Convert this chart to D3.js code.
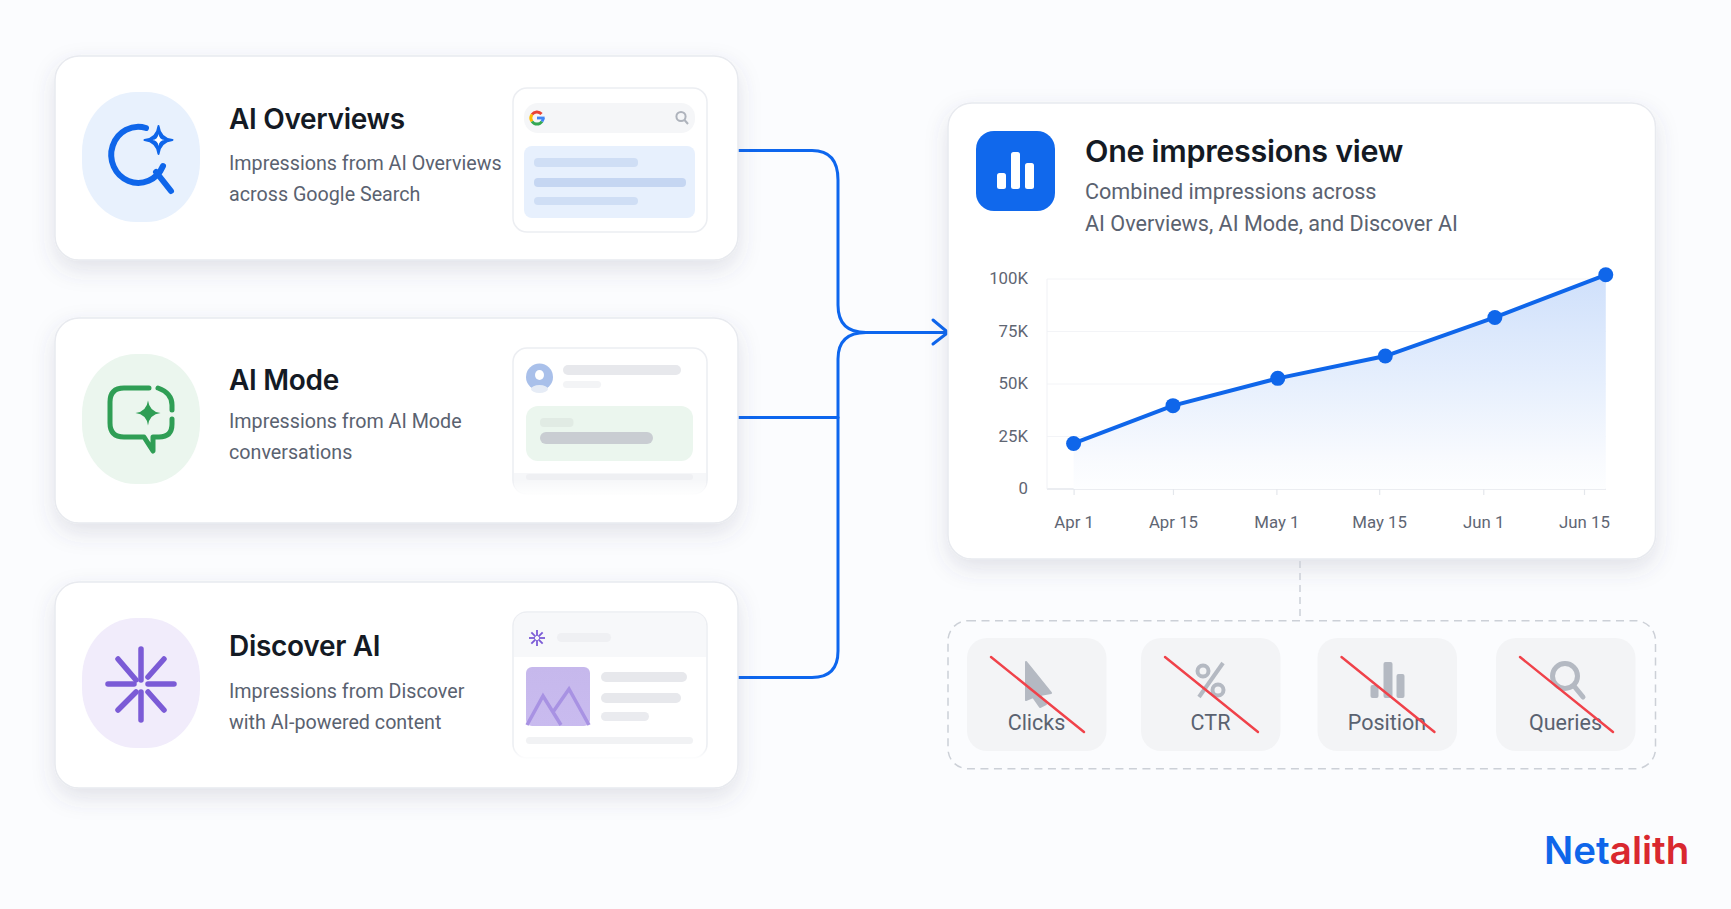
<!DOCTYPE html>
<html>
<head>
<meta charset="utf-8">
<script src="https://cdn.jsdelivr.net/npm/d3@7"></script>
<style>
  html, body { margin: 0; padding: 0; background: #fbfcfe; }
  svg { display: block; font-family: Inter, "Noto Sans", sans-serif; }
</style>
</head>
<body>
<div id="chart"></div>
<script>
// Chart values
const tickDays = [0, 14.6, 29.8, 44.9, 60.2, 75];
const tickLabels = ['Apr 1', 'Apr 15', 'May 1', 'May 15', 'Jun 1', 'Jun 15'];
const seriesDays = [0, 14.6, 30, 45.8, 61.9, 78.2];
const seriesValues = [21.7, 39.7, 52.7, 63.3, 81.7, 102];
const yTicks = [0, 25, 50, 75, 100];

const sourceTitles = ['AI Overviews', 'AI Mode', 'Discover AI'];
const sourceLines = [
  ['Impressions from AI Overviews', 'across Google Search'],
  ['Impressions from AI Mode', 'conversations'],
  ['Impressions from Discover', 'with AI-powered content']
];
const missingMetrics = ['Clicks', 'CTR', 'Position', 'Queries'];

const BLUE = '#0f66ea';
const GREEN = '#2f9e55';
const PURPLE = '#7b5bd6';
const GREY_ICON = '#b4b9c2';
const BODY_FONT = 'Roboto, Inter, sans-serif';

class ImpressionsDiagram {

  constructor(_config) {
    this.config = {
      parentElement: _config.parentElement,
      containerWidth: 1731,
      containerHeight: 909,
      cardTops: [56, 318, 582],
      cardHeights: [204, 205, 206],
      titleBaselines: [129, 390, 656],
      lineBaselines: [170, 428, 698],
      plot: {left: 1047, right: 1606, top: 279, bottom: 489, tickLeft: 1073.6, tickRight: 1584},
      tiles: [967, 1141, 1317.5, 1496]
    };
    this.initVis();
  }

  initVis() {
    let vis = this;

    vis.svg = d3.select(vis.config.parentElement).append('svg')
        .attr('width', vis.config.containerWidth)
        .attr('height', vis.config.containerHeight);

    let defs = vis.svg.append('defs');

    let shadow = defs.append('filter')
        .attr('id', 'card-shadow')
        .attr('x', '-10%').attr('y', '-10%')
        .attr('width', '120%').attr('height', '130%');
    shadow.append('feDropShadow')
        .attr('dx', 0).attr('dy', 9)
        .attr('stdDeviation', 11)
        .attr('flood-color', '#4a5570')
        .attr('flood-opacity', 0.15);

    let fade = defs.append('linearGradient')
        .attr('id', 'area-fade')
        .attr('x1', 0).attr('y1', 0).attr('x2', 0).attr('y2', 1);
    fade.append('stop').attr('offset', '0%').attr('stop-color', '#cfe0fb');
    fade.append('stop').attr('offset', '50%').attr('stop-color', '#e6effd');
    fade.append('stop').attr('offset', '85%').attr('stop-color', '#f8fafe');
    fade.append('stop').attr('offset', '100%').attr('stop-color', '#fdfeff');

    let photo = defs.append('linearGradient')
        .attr('id', 'photo-fade')
        .attr('x1', 0).attr('y1', 0).attr('x2', 0).attr('y2', 1);
    photo.append('stop').attr('offset', '0%').attr('stop-color', '#c6b8ec');
    photo.append('stop').attr('offset', '100%').attr('stop-color', '#c9bbef');

    // Previews in the lower two cards fade out at the bottom edge
    let white = defs.append('linearGradient')
        .attr('id', 'white-fade')
        .attr('x1', 0).attr('y1', 0).attr('x2', 0).attr('y2', 1);
    white.append('stop').attr('offset', '0%').attr('stop-color', '#fff').attr('stop-opacity', 0);
    white.append('stop').attr('offset', '100%').attr('stop-color', '#fff').attr('stop-opacity', 1);

    vis.renderConnectors();
    vis.renderSourceCards();
    vis.renderSummaryCard();
    vis.renderChart();
    vis.renderMissingMetrics();
    vis.renderLogo();
  }

  roundRect(parent, x, y, w, h, r, fill) {
    return parent.append('rect')
        .attr('x', x).attr('y', y)
        .attr('width', w).attr('height', h)
        .attr('rx', r)
        .attr('fill', fill);
  }

  // Four pointed star used by the sparkle icons
  sparklePath(cx, cy, r) {
    let k = r * 0.22;
    return `M${cx},${cy - r}Q${cx + k * 0.5},${cy - k * 0.5} ${cx + r},${cy}` +
      `Q${cx + k * 0.5},${cy + k * 0.5} ${cx},${cy + r}` +
      `Q${cx - k * 0.5},${cy + k * 0.5} ${cx - r},${cy}` +
      `Q${cx - k * 0.5},${cy - k * 0.5} ${cx},${cy - r}Z`;
  }

  renderConnectors() {
    let vis = this;
    let g = vis.svg.append('g')
        .attr('fill', 'none')
        .attr('stroke', '#0d66ee')
        .attr('stroke-width', 3)
        .attr('stroke-linecap', 'round');

    g.append('path').attr('d', 'M738,150.5H812Q838,150.5 838,180V305Q838,332.5 866,332.5H948');
    g.append('path').attr('d', 'M866,332.5Q838,332.5 838,359V651Q838,677.5 812,677.5H738');
    g.append('path').attr('d', 'M738,417.5H838');
    g.append('path').attr('d', 'M933,320L948,332.5L933,344');
  }

  renderSourceCards() {
    let vis = this;
    let blobColors = ['#e8f1fd', '#ebf6ee', '#f1ecfb'];

    sourceTitles.forEach((title, i) => {
      let top = vis.config.cardTops[i];
      let height = vis.config.cardHeights[i];
      let g = vis.svg.append('g');

      vis.roundRect(g, 55, top, 683, height, 24, '#fff')
          .attr('stroke', '#e8eaef')
          .attr('stroke-width', 1.5)
          .attr('filter', 'url(#card-shadow)');

      g.append('rect')
          .attr('x', 82).attr('y', top + 36)
          .attr('width', 118).attr('height', 130)
          .attr('rx', 54).attr('ry', 60)
          .attr('fill', blobColors[i]);

      g.append('text')
          .attr('x', 229).attr('y', vis.config.titleBaselines[i])
          .attr('font-size', 28)
          .attr('font-weight', 600)
          .attr('letter-spacing', -0.3)
          .attr('fill', '#141a24')
          .text(title);

      g.selectAll('.line')
        .data(sourceLines[i])
        .join('text')
          .attr('x', 229)
          .attr('y', (d, j) => vis.config.lineBaselines[i] + j * 31)
          .attr('font-family', BODY_FONT)
          .attr('font-size', 19.7)
          .attr('fill', '#5a6270')
          .text(d => d);
    });

    vis.renderSearchIcon();
    vis.renderModeIcon();
    vis.renderDiscoverIcon();
    vis.renderSearchPreview();
    vis.renderModePreview();
    vis.renderDiscoverPreview();
  }

  renderSearchIcon() {
    let vis = this;
    let g = vis.svg.append('g')
        .attr('fill', 'none')
        .attr('stroke', BLUE)
        .attr('stroke-linecap', 'round');

    g.append('path')
        .attr('stroke-width', 6)
        .attr('d', 'M146,128A27,28 0 1 0 163,166');
    g.append('path')
        .attr('stroke-width', 6)
        .attr('d', 'M156,172L171,191');
    g.append('path')
        .attr('stroke-width', 2)
        .attr('stroke-linejoin', 'round')
        .attr('fill', BLUE)
        .attr('d', vis.sparklePath(158.5, 140, 14));
    g.append('path')
        .attr('stroke', 'none')
        .attr('fill', '#fff')
        .attr('d', vis.sparklePath(158.5, 140, 6));
  }

  renderModeIcon() {
    let vis = this;
    let g = vis.svg.append('g')
        .attr('fill', 'none')
        .attr('stroke', GREEN)
        .attr('stroke-width', 5)
        .attr('stroke-linecap', 'round')
        .attr('stroke-linejoin', 'round');

    g.append('path')
        .attr('d', 'M149,388H124Q110,388 110,402V423Q110,437 124,437H144L153,451V437H159Q172,437 172,424V419');
    g.append('path')
        .attr('d', 'M158,388Q172,393 172,405V410');
    g.append('path')
        .attr('d', vis.sparklePath(148, 413, 12.5))
        .attr('stroke', 'none')
        .attr('fill', GREEN);
  }

  renderDiscoverIcon() {
    let vis = this;
    let rays = [
      [141, 649, 141, 680], [141, 692, 141, 720],
      [108, 684, 134, 684], [148, 684, 174, 684],
      [118, 659, 136, 680], [164, 659, 148, 677],
      [118, 710, 136, 692], [164, 710, 148, 692]
    ];
    vis.svg.append('g')
        .attr('stroke', PURPLE)
        .attr('stroke-width', 5.5)
        .attr('stroke-linecap', 'round')
      .selectAll('line')
      .data(rays)
      .join('line')
        .attr('x1', d => d[0]).attr('y1', d => d[1])
        .attr('x2', d => d[2]).attr('y2', d => d[3]);
  }

  renderSearchPreview() {
    let vis = this;
    let g = vis.svg.append('g');

    vis.roundRect(g, 513, 88, 194, 144, 14, '#fff')
        .attr('stroke', '#eceef2').attr('stroke-width', 1.5);
    vis.roundRect(g, 524, 103, 171, 30, 14, '#f5f6f8');
    vis.roundRect(g, 524, 146, 171, 72, 8, '#e7f0fd');
    vis.roundRect(g, 534, 158, 104, 9, 4, '#cfdef5');
    vis.roundRect(g, 534, 178, 152, 9, 4, '#c5d6f2');
    vis.roundRect(g, 534, 197, 104, 8, 4, '#cfdef5');

    // G logo built from coloured arcs, angles in degrees clockwise from the top
    let arc = d3.arc().innerRadius(4.6).outerRadius(7.6);
    let logo = g.append('g').attr('transform', 'translate(537,118)');
    [
      {from: -55, to: 48, color: '#ea4335'},
      {from: -125, to: -55, color: '#fbbc05'},
      {from: 125, to: 235, color: '#34a853'},
      {from: 90, to: 125, color: '#4285f4'}
    ].forEach(p => {
      logo.append('path')
          .attr('fill', p.color)
          .attr('d', arc.startAngle(p.from * Math.PI / 180).endAngle(p.to * Math.PI / 180)());
    });
    logo.append('rect')
        .attr('x', 0).attr('y', -1.4)
        .attr('width', 7.6).attr('height', 2.8)
        .attr('fill', '#4285f4');

    let lens = g.append('g')
        .attr('fill', 'none')
        .attr('stroke', '#aeb3bc')
        .attr('stroke-width', 2);
    lens.append('circle').attr('cx', 681).attr('cy', 116.5).attr('r', 4.6);
    lens.append('line').attr('x1', 684.5).attr('y1', 120).attr('x2', 688).attr('y2', 124);
  }

  renderModePreview() {
    let vis = this;
    let g = vis.svg.append('g');

    vis.roundRect(g, 513, 348, 194, 146, 14, '#fff')
        .attr('stroke', '#eceef2').attr('stroke-width', 1.5);
    g.append('path')
        .attr('d', 'M514,473H706V481Q706,493 694,493H526Q514,493 514,481Z')
        .attr('fill', '#f6f7f9');
    vis.roundRect(g, 526, 474, 167, 6, 3, '#eff0f3');

    g.append('circle').attr('cx', 539.5).attr('cy', 377).attr('r', 13.5).attr('fill', '#a9c0ea');
    g.append('ellipse').attr('cx', 539.5).attr('cy', 375).attr('rx', 4.5).attr('ry', 5).attr('fill', '#fff');
    g.append('ellipse').attr('cx', 539.5).attr('cy', 389).attr('rx', 8.5).attr('ry', 4).attr('fill', '#e6ecf6');

    vis.roundRect(g, 563, 365, 118, 10, 5, '#e7e8ec');
    vis.roundRect(g, 563, 381, 38, 7, 3.5, '#f3f4f6');
    vis.roundRect(g, 526, 406, 167, 55, 12, '#ebf6ee');
    vis.roundRect(g, 540, 418, 33.5, 9, 4, '#e1ebe4');
    vis.roundRect(g, 540, 432, 113, 12, 6, '#c9cdd2');

    g.append('rect')
        .attr('x', 511).attr('y', 480)
        .attr('width', 198).attr('height', 16)
        .attr('fill', 'url(#white-fade)');
  }

  renderDiscoverPreview() {
    let vis = this;
    let g = vis.svg.append('g');

    vis.roundRect(g, 513, 612, 194, 146, 14, '#fff')
        .attr('stroke', '#eceef2').attr('stroke-width', 1.5);
    g.append('path')
        .attr('d', 'M514,657V626Q514,613 527,613H693Q706,613 706,626V657Z')
        .attr('fill', '#f7f8fa');

    let cx = 537, cy = 638;
    g.append('g')
        .attr('stroke', PURPLE)
        .attr('stroke-width', 1.8)
      .selectAll('line')
      .data(d3.range(8))
      .join('line')
        .attr('x1', d => cx + 2 * Math.cos(d * Math.PI / 4))
        .attr('y1', d => cy + 2 * Math.sin(d * Math.PI / 4))
        .attr('x2', d => cx + 8 * Math.cos(d * Math.PI / 4))
        .attr('y2', d => cy + 8 * Math.sin(d * Math.PI / 4));

    vis.roundRect(g, 557, 633, 54, 9, 4.5, '#eff0f3');
    vis.roundRect(g, 526, 667, 64, 59, 6, 'url(#photo-fade)');
    g.append('path')
        .attr('d', 'M527,725L543,696L561,725M553,712L569,689L589,725')
        .attr('fill', 'none')
        .attr('stroke', '#a892e3')
        .attr('stroke-width', 3.5);
    vis.roundRect(g, 601, 672, 86, 10, 5, '#e7e8ec');
    vis.roundRect(g, 601, 693, 80, 10, 5, '#e7e8ec');
    vis.roundRect(g, 601, 712, 48, 9, 4.5, '#eaebef');
    vis.roundRect(g, 526, 737, 167, 7, 3.5, '#f1f2f4');

    g.append('rect')
        .attr('x', 511).attr('y', 746)
        .attr('width', 198).attr('height', 14)
        .attr('fill', 'url(#white-fade)');
  }

  renderSummaryCard() {
    let vis = this;
    let g = vis.svg.append('g');

    vis.roundRect(g, 948, 103, 707.5, 456, 24, '#fff')
        .attr('stroke', '#e8eaef')
        .attr('stroke-width', 1.5)
        .attr('filter', 'url(#card-shadow)');

    vis.roundRect(g, 976, 131, 79, 80, 18, '#1068ec');
    [[997, 173, 9, 16], [1011, 152, 9, 37], [1025, 163, 9, 26]].forEach(b => {
      vis.roundRect(g, b[0], b[1], b[2], b[3], 2.5, '#fff');
    });

    g.append('text')
        .attr('x', 1085).attr('y', 162)
        .attr('font-size', 30.5)
        .attr('font-weight', 600)
        .attr('letter-spacing', -0.3)
        .attr('fill', '#141a24')
        .text('One impressions view');

    g.selectAll('.sub')
      .data(['Combined impressions across', 'AI Overviews, AI Mode, and Discover AI'])
      .join('text')
        .attr('x', 1085)
        .attr('y', (d, i) => 199 + i * 32)
        .attr('font-family', BODY_FONT)
        .attr('font-size', 21.6)
        .attr('fill', '#5a6270')
        .text(d => d);
  }

  renderChart() {
    let vis = this;
    let p = vis.config.plot;

    let xScale = d3.scaleLinear().domain([0, 75]).range([p.tickLeft, p.tickRight]);
    let yScale = d3.scaleLinear().domain([0, 100]).range([p.bottom, p.top]);
    let points = seriesDays.map((day, i) => ({day: day, value: seriesValues[i]}));

    let g = vis.svg.append('g');

    // Gridlines
    g.append('g').selectAll('line')
      .data(yTicks)
      .join('line')
        .attr('x1', p.left).attr('x2', p.right)
        .attr('y1', d => yScale(d)).attr('y2', d => yScale(d))
        .attr('stroke', d => d === 0 ? '#e4e7ec' : '#f3f4f7')
        .attr('stroke-width', d => d === 0 ? 1.5 : 1);
    g.append('line')
        .attr('x1', p.left).attr('x2', p.left)
        .attr('y1', p.top).attr('y2', p.bottom)
        .attr('stroke', '#f0f1f5');

    // Area and line
    let area = d3.area()
        .x(d => xScale(d.day))
        .y0(yScale(0))
        .y1(d => yScale(d.value));
    let line = d3.line()
        .x(d => xScale(d.day))
        .y(d => yScale(d.value));

    g.append('path')
        .attr('d', area(points))
        .attr('fill', 'url(#area-fade)');

    // Axes
    let xAxis = d3.axisBottom(xScale)
        .tickValues(tickDays)
        .tickFormat((d, i) => tickLabels[i])
        .tickSize(6)
        .tickPadding(21);
    let xAxisG = g.append('g')
        .attr('transform', `translate(0,${p.bottom})`)
        .call(xAxis);
    xAxisG.select('.domain').remove();
    xAxisG.selectAll('.tick line').attr('stroke', '#e4e7ec').attr('stroke-width', 1.2);

    let yAxis = d3.axisLeft(yScale)
        .tickValues(yTicks)
        .tickFormat(d => d === 0 ? '0' : d + 'K')
        .tickSize(0)
        .tickPadding(19);
    let yAxisG = g.append('g')
        .attr('transform', `translate(${p.left},-0.7)`)
        .call(yAxis);
    yAxisG.select('.domain').remove();

    g.selectAll('.tick text')
        .attr('font-family', BODY_FONT)
        .attr('font-size', 16.8)
        .attr('fill', '#5f6673');

    g.append('path')
        .attr('d', line(points))
        .attr('fill', 'none')
        .attr('stroke', BLUE)
        .attr('stroke-width', 4);

    g.selectAll('.dot')
      .data(points)
      .join('circle')
        .attr('class', 'dot')
        .attr('cx', d => xScale(d.day))
        .attr('cy', d => yScale(d.value))
        .attr('r', 7.5)
        .attr('fill', BLUE);
  }

  renderMissingMetrics() {
    let vis = this;
    let g = vis.svg.append('g');

    g.append('line')
        .attr('x1', 1300).attr('x2', 1300)
        .attr('y1', 561).attr('y2', 621)
        .attr('stroke', '#ccd0d7')
        .attr('stroke-width', 1.5)
        .attr('stroke-dasharray', '7 5');

    vis.roundRect(g, 948, 620.7, 707.5, 148, 20, 'none')
        .attr('stroke', '#ccd0d7')
        .attr('stroke-width', 1.5)
        .attr('stroke-dasharray', '8 5.5');

    missingMetrics.forEach((label, i) => {
      let x = vis.config.tiles[i];
      let tile = g.append('g').attr('transform', `translate(${x},0)`);

      vis.roundRect(tile, 0, 638, 139.5, 113, 20, '#f3f4f6');
      vis.renderMetricIcon(tile, i);

      tile.append('text')
          .attr('x', 69.5).attr('y', 730)
          .attr('text-anchor', 'middle')
          .attr('font-family', BODY_FONT)
          .attr('font-size', 21.5)
          .attr('fill', '#5a6270')
          .text(label);

      tile.append('line')
          .attr('x1', 24).attr('y1', 657)
          .attr('x2', 117).attr('y2', 732)
          .attr('stroke', '#f0424a')
          .attr('stroke-width', 2.4)
          .attr('stroke-linecap', 'round');
    });
  }

  renderMetricIcon(tile, i) {
    if (i === 0) {
      tile.append('path')
          .attr('d', 'M59,662L84,693L73,695L79,704L73,707L66,697L59,700Z')
          .attr('fill', GREY_ICON)
          .attr('stroke', GREY_ICON)
          .attr('stroke-width', 2)
          .attr('stroke-linejoin', 'round');
    } else if (i === 1) {
      let pct = tile.append('g')
          .attr('fill', 'none')
          .attr('stroke', GREY_ICON)
          .attr('stroke-width', 4);
      pct.append('circle').attr('cx', 62).attr('cy', 671).attr('r', 5.5);
      pct.append('circle').attr('cx', 77).attr('cy', 690).attr('r', 5.5);
      pct.append('line')
          .attr('x1', 82).attr('y1', 663)
          .attr('x2', 58).attr('y2', 697);
    } else if (i === 2) {
      [[53, 685, 8, 13], [66, 662, 9, 36], [79, 674, 8, 24]].forEach(b => {
        tile.append('rect')
            .attr('x', b[0]).attr('y', b[1])
            .attr('width', b[2]).attr('height', b[3])
            .attr('rx', 2)
            .attr('fill', GREY_ICON);
      });
    } else {
      let lens = tile.append('g')
          .attr('fill', 'none')
          .attr('stroke', GREY_ICON)
          .attr('stroke-width', 5)
          .attr('stroke-linecap', 'round');
      lens.append('circle').attr('cx', 69).attr('cy', 676).attr('r', 12.5);
      lens.append('line').attr('x1', 78).attr('y1', 686).attr('x2', 87).attr('y2', 697);
    }
  }

  renderLogo() {
    let vis = this;
    let t = vis.svg.append('text')
        .attr('x', 1544).attr('y', 864)
        .attr('font-size', 38.5)
        .attr('font-weight', 600);
    t.append('tspan').attr('fill', '#0f66ea').text('Net');
    t.append('tspan').attr('fill', '#d9282f').text('alith');
  }
}

new ImpressionsDiagram({parentElement: '#chart'});
</script>
</body>
</html>
